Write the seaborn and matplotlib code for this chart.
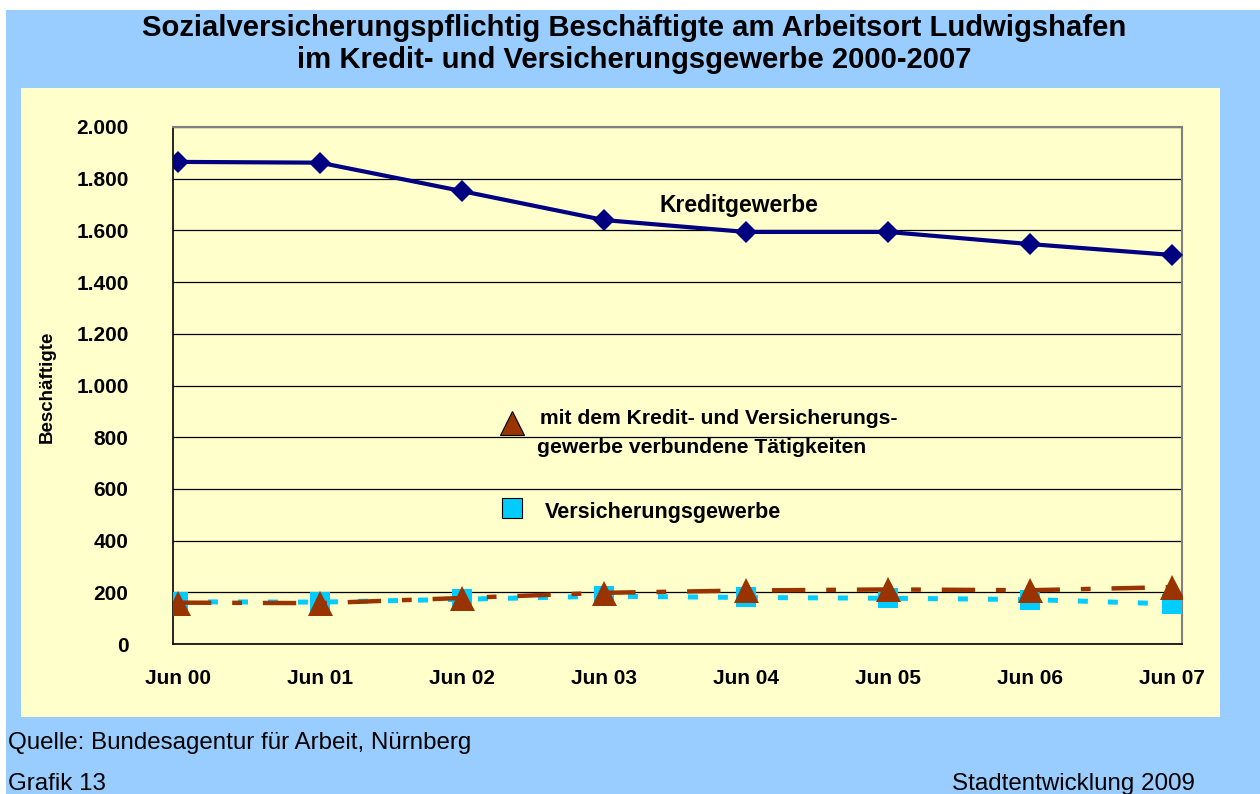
import numpy as np
import pandas as pd
import matplotlib
matplotlib.use('Agg')
import matplotlib.pyplot as plt
from matplotlib.patches import Rectangle
import seaborn as sns

# data
months = ['Jun 00', 'Jun 01', 'Jun 02', 'Jun 03', 'Jun 04', 'Jun 05', 'Jun 06', 'Jun 07']
kreditgewerbe = [1865, 1862, 1752, 1640, 1594, 1594, 1547, 1505]
verbundene = [160, 158, 178, 198, 207, 211, 208, 220]
versicherung = [163, 162, 173, 185, 180, 177, 172, 155]
y_ticks = list(range(0, 2001, 200))

sns.set_style('white')
plt.rcParams['font.family'] = ['Liberation Sans', 'DejaVu Sans']
plt.rcParams['text.color'] = 'black'
plt.rcParams['xtick.color'] = 'black'
plt.rcParams['ytick.color'] = 'black'

W, H = 1260, 794
fig = plt.figure(figsize=(W / 100, H / 100), dpi=100)
fig.patch.set_facecolor('white')

# blue frame and yellow panel
fig.patches.append(Rectangle((6 / W, 0), 1, 1 - 10 / H, transform=fig.transFigure,
                             facecolor='#99CCFF', edgecolor='none', zorder=-5))
fig.patches.append(Rectangle((21 / W, 1 - 717 / H), (1220 - 21) / W, (717 - 88) / H,
                             transform=fig.transFigure, facecolor='#FFFFCC',
                             edgecolor='none', zorder=-4))

ax = fig.add_axes([173 / W, 1 - 644 / H, 1009 / W, 517 / H])
ax.set_zorder(2)
ax.set_facecolor('none')

df = pd.DataFrame({'pos': np.arange(len(months)), 'monat': months,
                   'kredit': kreditgewerbe, 'verbunden': verbundene,
                   'versicherung': versicherung})

sns.lineplot(data=df, x='pos', y='versicherung', ax=ax, color='#00CCFF', lw=3.6,
             linestyle=(0, (2, 4)), marker='s', markersize=15,
             markeredgewidth=0, errorbar=None, zorder=3)
sns.lineplot(data=df, x='pos', y='verbunden', ax=ax, color='#993300', lw=3.2,
             linestyle=(0, (7.5, 4.7, 2.2, 4.7)), marker='^', markersize=18,
             markeredgewidth=0, errorbar=None, zorder=4)
sns.lineplot(data=df, x='pos', y='kredit', ax=ax, color='#000080', lw=3,
             marker='D', markersize=11, markeredgewidth=0, errorbar=None, zorder=5)

ax.set_xlim(-0.035, 7.07)
ax.set_ylim(0, 2000)
ax.set_yticks(y_ticks)
ax.set_yticklabels([f'{v:,}'.replace(',', '.') for v in y_ticks],
                   fontweight='bold', fontsize=15)
ax.set_xticks(df['pos'])
ax.set_xticklabels(months, fontweight='bold', fontsize=15)
ax.tick_params(axis='y', direction='out', length=6, width=1, pad=26, color='black')
ax.tick_params(axis='x', direction='out', length=6, width=1, pad=12, color='black')
ax.set_xlabel('')
ax.set_ylabel('')
ax.yaxis.grid(True, color='black', lw=0.9)
ax.xaxis.grid(False)
ax.set_axisbelow(True)
for side in ['left', 'bottom']:
    ax.spines[side].set_color('black')
    ax.spines[side].set_linewidth(1.2)
for side in ['top', 'right']:
    ax.spines[side].set_color('#808080')
    ax.spines[side].set_linewidth(1.5)

# series labels inside the plot
ax.text(3.95, 1698, 'Kreditgewerbe', fontsize=16.5, fontweight='bold',
        ha='center', va='center')
ax.plot([2.35], [855], marker='^', markersize=17, color='#993300',
        markeredgecolor='black', markeredgewidth=0.8, ls='none')
ax.text(2.55, 874, 'mit dem Kredit- und Versicherungs-', fontsize=15.2,
        fontweight='bold', ha='left', va='center')
ax.text(2.53, 762, 'gewerbe verbundene Tätigkeiten', fontsize=15.2,
        fontweight='bold', ha='left', va='center')
ax.plot([2.35], [526], marker='s', markersize=14, color='#00CCFF',
        markeredgecolor='black', markeredgewidth=0.8, ls='none')
ax.text(2.58, 507, 'Versicherungsgewerbe', fontsize=15.5, fontweight='bold',
        ha='left', va='center')

fig.text(47 / W, 1 - 387 / H, 'Beschäftigte', rotation=90, fontsize=13.5,
         fontweight='bold', ha='center', va='center')

fig.text(634 / W, 1 - 28 / H,
         'Sozialversicherungspflichtig Beschäftigte am Arbeitsort Ludwigshafen',
         fontsize=21.1, fontweight='bold', ha='center', va='center')
fig.text(634 / W, 1 - 60 / H, 'im Kredit- und Versicherungsgewerbe 2000-2007',
         fontsize=21.1, fontweight='bold', ha='center', va='center')

fig.text(8 / W, 1 - 743 / H, 'Quelle: Bundesagentur für Arbeit, Nürnberg',
         fontsize=17.4, ha='left', va='center')
fig.text(8 / W, 1 - 784 / H, 'Grafik 13', fontsize=17.4, ha='left', va='center')
fig.text(1195 / W, 1 - 784 / H, 'Stadtentwicklung 2009', fontsize=17.4,
         ha='right', va='center')

fig.savefig('out.png', dpi=100)
